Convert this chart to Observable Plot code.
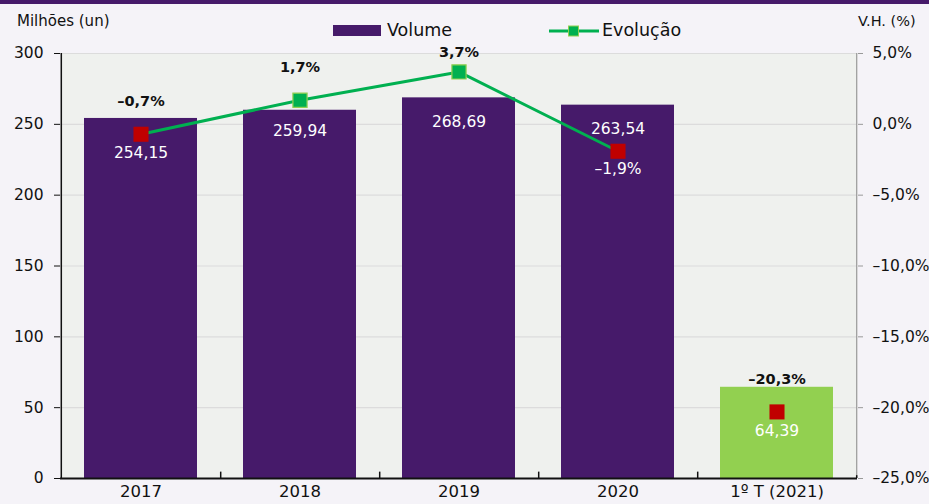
<!DOCTYPE html>
<html>
<head>
<meta charset="utf-8">
<script src="https://cdn.jsdelivr.net/npm/d3@7"></script>
<script src="https://cdn.jsdelivr.net/npm/@observablehq/plot@0.6"></script>
<style>
  html, body { margin: 0; padding: 0; }
  body { font-family: "DejaVu Sans", sans-serif; }
  #wrap { position: relative; width: 929px; height: 504px; background: #f5f3f8; overflow: hidden; }
  #topbar { position: absolute; left: 0; top: 0; width: 929px; height: 4px; background: #461a6a; }
  .lbl { position: absolute; font-size: 15px; color: #111; white-space: nowrap; line-height: 20px; }
  .leg { position: absolute; font-size: 17.5px; color: #111; white-space: nowrap; line-height: 22px; top: 19px; }
  #chart { position: absolute; left: 0; top: 0; }
</style>
</head>
<body>
<div id="wrap">
  <div id="chart"></div>
  <div id="topbar"></div>
  <div class="lbl" style="left:17px; top:11px;">Milhões (un)</div>
  <div class="lbl" style="left:858px; top:11px; font-size:14.5px;">V.H. (%)</div>
  <svg style="position:absolute; left:333px; top:25px;" width="48" height="11"><rect width="48" height="11" fill="#461a6a"/></svg>
  <div class="leg" style="left:387px;">Volume</div>
  <svg style="position:absolute; left:549px; top:24px;" width="50" height="14"><line x1="0" x2="50" y1="7" y2="7" stroke="#00b050" stroke-width="3"/><rect x="19.5" y="2" width="10" height="10" fill="#00b050" stroke="#92d050" stroke-width="1"/></svg>
  <div class="leg" style="left:602px;">Evolução</div>
</div>
<script>
const years = ["2017", "2018", "2019", "2020", "1º T (2021)"];
const volume = [254.15, 259.94, 268.69, 263.54, 64.39];
const evolucao = [-0.7, 1.7, 3.7, -1.9, -20.3];
const leftTicks = [0, 50, 100, 150, 200, 250, 300];

const fmtNum = v => v.toFixed(2).replace(".", ",");
const fmtPct = v => v.toFixed(1).replace(".", ",").replace("-", "\u2013") + "%";
// secondary axis: -25%..5% mapped onto 0..300
const toY = p => (p + 25) * 10;
const fromY = y => y / 10 - 25;

const rows = years.map((c, i) => ({cat: c, vol: volume[i], pct: evolucao[i], i}));
const full = rows.filter(d => d.i < 4);
const partial = rows.filter(d => d.i === 4);

const W = 929, H = 504, mL = 60, mR = 72;
const half = (W - mL - mR) / years.length / 2;

const purple = "#461a6a", green = "#00b050", lightGreen = "#92d050", red = "#c00000";

const chart = Plot.plot({
  width: W,
  height: H,
  marginLeft: mL,
  marginRight: mR,
  marginTop: 53,
  marginBottom: 26,
  style: {fontFamily: "'DejaVu Sans', sans-serif", background: "transparent", color: "#111"},
  x: {domain: years, paddingInner: 0.29, paddingOuter: 0.145, label: null},
  y: {domain: [0, 300], label: null},
  marks: [
    Plot.frame({fill: "#eff1ee", stroke: "none"}),
    Plot.gridY(leftTicks, {stroke: "#dcdcdc", strokeOpacity: 1, strokeWidth: 1.2}),
    Plot.barY(full, {x: "cat", y: "vol", fill: purple}),
    Plot.barY(partial, {x: "cat", y: "vol", fill: lightGreen}),
    // axes lines
    Plot.ruleX([years[0]], {y1: 0, y2: 300, dx: -half, stroke: "#111", strokeWidth: 1.5}),
    Plot.ruleX([years[years.length - 1]], {y1: 0, y2: 300, dx: half, stroke: "#999", strokeWidth: 1.2}),
    Plot.ruleY([0], {stroke: "#111", strokeWidth: 2}),
    Plot.ruleX(years.slice(0, -1), {y1: 0, y2: 4.5, dx: half, stroke: "#111", strokeWidth: 1.5}),
    Plot.ruleX([years[years.length - 1]], {y1: 0, y2: 2, dx: half, stroke: "#111", strokeWidth: 1.5}),
    // line
    Plot.line(full, {x: "cat", y: d => toY(d.pct), stroke: green, strokeWidth: 3}),
    Plot.dot(rows.filter(d => d.pct >= 0), {x: "cat", y: d => toY(d.pct), symbol: "square", r: 8, fill: green, stroke: lightGreen, strokeWidth: 1.2}),
    Plot.dot(rows.filter(d => d.pct < 0), {x: "cat", y: d => toY(d.pct), symbol: "square", r: 8.5, fill: red, stroke: "none"}),
    // percentage labels
    Plot.text(rows.filter(d => [0, 1, 4].includes(d.i)), {x: "cat", y: d => toY(d.pct), text: d => fmtPct(d.pct), dy: -33, fontSize: 14.5, fontWeight: "bold", fill: "#111"}),
    Plot.text(rows.filter(d => d.i === 2), {x: "cat", y: d => toY(d.pct), text: d => fmtPct(d.pct), dy: -20, fontSize: 14.5, fontWeight: "bold", fill: "#111"}),
    Plot.text(rows.filter(d => d.i === 3), {x: "cat", y: d => toY(d.pct), text: d => fmtPct(d.pct), dy: 18, fontSize: 15.5, fill: "#fff"}),
    // volume labels
    Plot.text(rows.filter(d => d.i === 0 || d.i === 4), {x: "cat", y: d => toY(d.pct), text: d => fmtNum(d.vol), dy: 19, fontSize: 15.5, fill: "#fff"}),
    Plot.text(rows.filter(d => d.i === 1), {x: "cat", y: "vol", text: d => fmtNum(d.vol), dy: 21, fontSize: 15.5, fill: "#fff"}),
    Plot.text(rows.filter(d => d.i === 2 || d.i === 3), {x: "cat", y: "vol", text: d => fmtNum(d.vol), dy: 24, fontSize: 15.5, fill: "#fff"}),
    // axes
    Plot.axisY(leftTicks, {anchor: "left", tickSize: 6, tickPadding: 11, fontSize: 15.5, label: null, stroke: "#111"}),
    Plot.axisY(leftTicks, {anchor: "right", tickSize: 5, tickPadding: 10, fontSize: 15.5, label: null, stroke: "#999", tickFormat: d => fmtPct(fromY(d))}),
    Plot.axisX({tickSize: 0, tickPadding: 7, fontSize: 16.5, label: null})
  ]
});
document.getElementById("chart").appendChild(chart);
</script>
</body>
</html>
